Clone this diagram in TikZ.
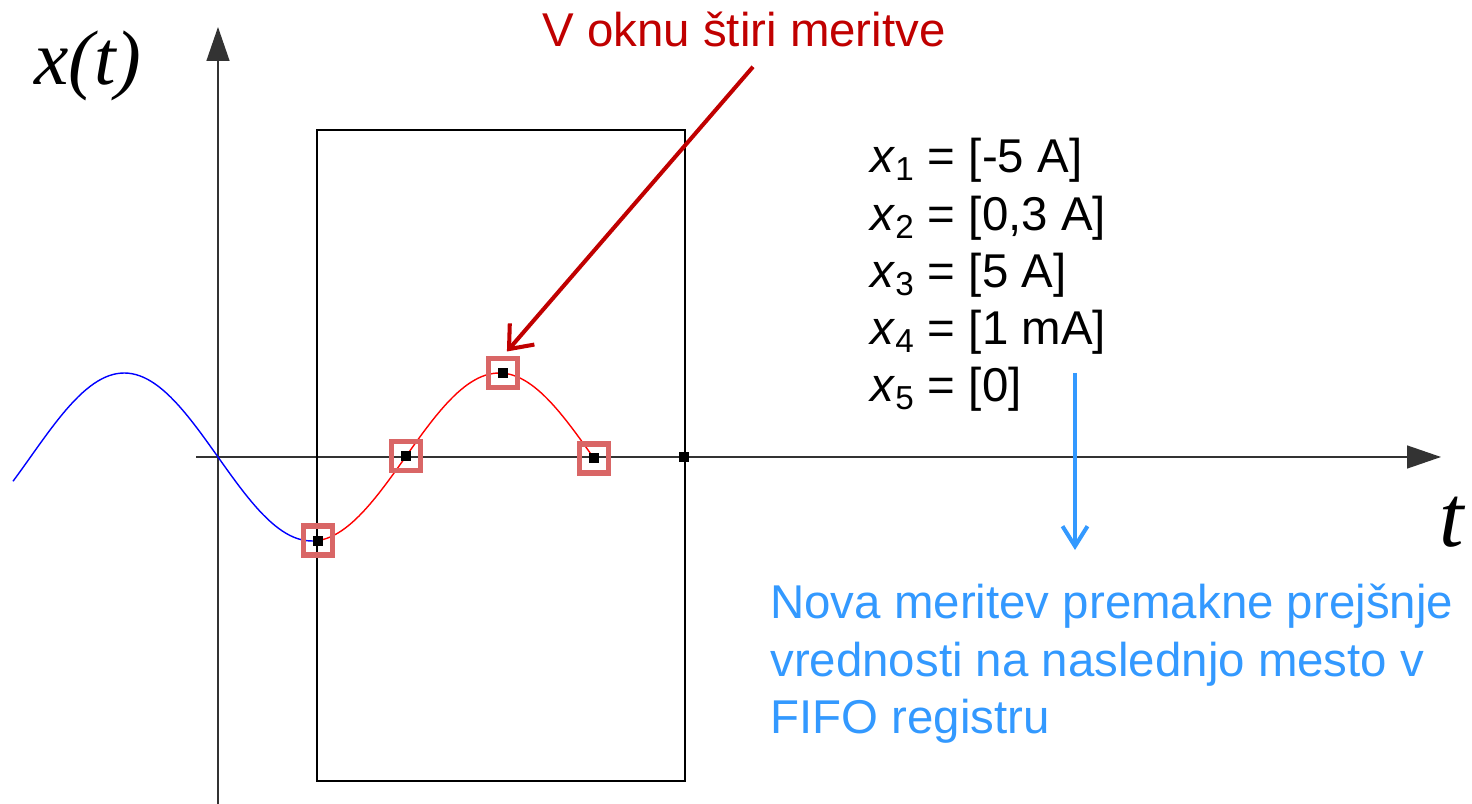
\documentclass[tikz,border=0pt]{standalone}
\usepackage{fontspec}
\setmainfont{Liberation Sans}
\newfontfamily\timesit{Liberation Serif}
\usepackage{tikz}
\usetikzlibrary{arrows.meta,calc}
\definecolor{okred}{RGB}{192,0,0}
\definecolor{fifoblue}{RGB}{51,153,255}
\definecolor{boxred}{RGB}{217,102,102}

\begin{document}
\begin{tikzpicture}[x=0.02cm,y=-0.02cm,
    axis/.style={draw=black!80,line width=0.8pt,-{Triangle[length=0.68cm,width=0.46cm]}},
    sample/.style={fill=black,inner sep=0pt,minimum size=0.2cm},
    hilite/.style={draw=boxred,line width=3pt,inner sep=0pt,minimum size=0.58cm},
    bigtxt/.style={font=\fontsize{27}{32.6}\selectfont,inner sep=0pt},
    axlabel/.style={font=\timesit\itshape\fontsize{44}{44}\selectfont,inner sep=0pt}]
    \def\A{84}   % amplituda
    \def\k{0.96} % 360/perioda
    \def\Z{218}  % prehod skozi nic
    \useasboundingbox (0,0) rectangle (1472,804);

    % osi
    \draw[axis] (218,804) -- (218,27);
    \draw[axis] (196,457) -- (1441,457);
    \node[axlabel] (xt) at (88,66) {x(t)};
    \node[axlabel,font=\timesit\itshape\fontsize{50}{50}\selectfont] (tt) at (1452,522) {t};

    % signal
    \draw[blue,line width=0.8pt,domain=13:317,samples=80] plot (\x,{457+\A*sin(\k*(\x-\Z))});
    \draw[red,line width=0.8pt,domain=317:594,samples=80] plot (\x,{457+\A*sin(\k*(\x-\Z))});

    % okno
    \draw[line width=1.4pt] (317,130) rectangle (685,781);

    % meritve
    \foreach \n/\px in {1/318,2/406,3/503,4/594}
        \node[hilite] (b\n) at (\px,{457+\A*sin(\k*(\px-\Z))}) {};
    \foreach \n/\px in {1/318,2/406,3/503,4/594}
        \node[sample] (s\n) at (\px,{457+\A*sin(\k*(\px-\Z))}) {};
    \node[sample] (s5) at (684,457) {};

    \node[bigtxt,text=okred,anchor=base] (okno) at (744,47) {V oknu štiri meritve};
    \draw[okred,line width=2.3pt,-{Straight Barb[length=0.4cm,width=0.65cm]},shorten >=0.12cm]
        ([xshift=0.18cm,yshift=-0.38cm]okno.south) -- (b3.north);

    \node[bigtxt,anchor=north west,align=left] (regs) at (870,138)
        {\textit{x}\textsubscript{1} = [-5 A]\\
         \textit{x}\textsubscript{2} = [0,3 A]\\
         \textit{x}\textsubscript{3} = [5 A]\\
         \textit{x}\textsubscript{4} = [1 mA]\\
         \textit{x}\textsubscript{5} = [0]};

    \node[bigtxt,text=fifoblue,anchor=north west,align=left] (fifo) at (770,584)
        {Nova meritev premakne prejšnje\\
         vrednosti na naslednjo mesto v\\
         FIFO registru};
    \coordinate (pomik) at (1075,373);
    \draw[fifoblue,line width=2.3pt,-{Straight Barb[length=0.4cm,width=0.5cm]},shorten >=0.68cm]
        (pomik) -- (pomik |- fifo.north);
\end{tikzpicture}
\end{document}
